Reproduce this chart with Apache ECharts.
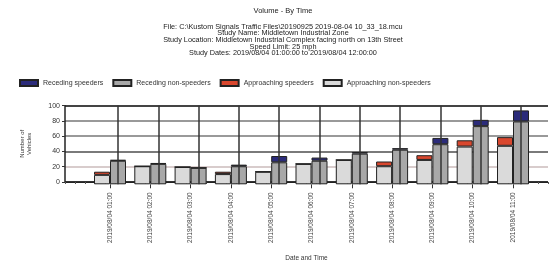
<!DOCTYPE html>
<html>
<head>
<meta charset="utf-8">
<script src="https://cdn.jsdelivr.net/npm/echarts@6/dist/echarts.min.js"></script>
<style>
html,body{margin:0;padding:0;background:#fff;}
#chart{width:556px;height:263px;}
</style>
</head>
<body>
<div id="chart"></div>
<script>
// time slots (x labels)
var timeLabels = ['2019/08/04 01:00', '2019/08/04 02:00', '2019/08/04 03:00', '2019/08/04 04:00',
	'2019/08/04 05:00', '2019/08/04 06:00', '2019/08/04 07:00', '2019/08/04 08:00',
	'2019/08/04 09:00', '2019/08/04 10:00', '2019/08/04 11:00'];
var approachNonSpeeders = [12, 23, 22, 13, 16, 26, 31, 23, 31, 48, 49];
var approachSpeeders = [4, 0, 0, 3, 0, 0, 0, 6, 6, 8, 11];
var recedeNonSpeeders = [30, 26, 21, 23, 28, 30, 39, 44, 51, 74, 80];
var recedeSpeeders = [1, 1, 0, 2, 8, 4, 2, 2, 8, 8, 14];

var subLines = [
	'File: C:\\Kustom Signals Traffic Files\\20190925 2019-08-04 10_33_18.mcu',
	'Study Name: Middletown Industrial Zone',
	'Study Location: Middletown Industrial Complex facing north on 13th Street',
	'Speed Limit: 25 mph',
	'Study Dates: 2019/08/04 01:00:00 to 2019/08/04 12:00:00'
];

// vertical line at each time slot
var centerLines = [];
for (var i = 0; i < timeLabels.length; i++) {
	centerLines.push({xAxis: i});
}

var barStyle = function(color) {
	return {color: color, borderColor: '#222', borderWidth: 1};
};

var myChart = echarts.init(document.getElementById('chart'));
var option = {
	animation: false,
	textStyle: {fontFamily: 'Liberation Sans, Arial, sans-serif'},
	graphic: [
		{type: 'text', x: 283, y: 7, style: {text: 'Volume - By Time', fontSize: 7.5, textAlign: 'center', fill: '#222', fontFamily: 'Liberation Sans'}},
		{type: 'text', x: 283, y: 23.5, style: {text: subLines.join('\n'), fontSize: 7.3, lineHeight: 6.6, textAlign: 'center', fill: '#222', fontFamily: 'Liberation Sans'}}
	],
	legend: {
		left: 19,
		top: 79,
		padding: 0,
		itemWidth: 18,
		itemHeight: 6,
		itemGap: 9,
		icon: 'rect',
		textStyle: {fontSize: 7, color: '#333'},
		data: ['Receding speeders', 'Receding non-speeders', 'Approaching speeders', 'Approaching non-speeders']
	},
	grid: [
		// frame grid: y axis, gridlines, small ticks
		{left: 65, right: 8, top: 105.7, bottom: 78.7, containLabel: false},
		// bars grid
		{left: 89.85, right: 22.85, top: 105.7, bottom: 78.7, containLabel: false}
	],
	xAxis: [
		{
			gridIndex: 0,
			type: 'value',
			min: 0,
			max: 48,
			interval: 1,
			name: 'Date and Time',
			nameLocation: 'middle',
			nameGap: 73,
			nameTextStyle: {fontSize: 6.5, color: '#333'},
			axisLine: {show: true, lineStyle: {color: '#222', width: 1}},
			axisTick: {show: true, length: 2, lineStyle: {color: '#555'}},
			axisLabel: {show: false},
			splitLine: {show: false}
		},
		{
			gridIndex: 1,
			type: 'category',
			data: timeLabels,
			axisLine: {show: false},
			axisTick: {show: true, alignWithLabel: true, length: 4, lineStyle: {color: '#333'}},
			axisLabel: {rotate: 90, fontSize: 6.5, color: '#444', margin: 8, interval: 0},
			splitLine: {show: false}
		}
	],
	yAxis: [
		{
			gridIndex: 0,
			type: 'value',
			min: 0,
			max: 100,
			interval: 20,
			name: 'Number of\nVehicles',
			nameLocation: 'middle',
			nameRotate: 90,
			nameGap: 32,
			nameTextStyle: {fontSize: 6, color: '#333', lineHeight: 7},
			axisLine: {show: true, lineStyle: {color: '#222', width: 1.5}},
			axisTick: {show: true, length: 3, lineStyle: {color: '#333'}},
			axisLabel: {fontSize: 7, color: '#333', margin: 5},
			splitLine: {show: true, lineStyle: {color: ['#333', '#d8cccc', '#7a7a7a', '#999', '#999', '#444'], width: 2}}
		},
		{
			gridIndex: 1,
			type: 'value',
			min: 0,
			max: 100,
			interval: 20,
			show: false
		}
	],
	series: [
		{name: 'Approaching non-speeders', type: 'bar', xAxisIndex: 1, yAxisIndex: 1, stack: 'app', barWidth: 16, barGap: '0%', data: approachNonSpeeders, itemStyle: barStyle('#dadada')},
		{name: 'Approaching speeders', type: 'bar', xAxisIndex: 1, yAxisIndex: 1, stack: 'app', barWidth: 16, barGap: '0%', data: approachSpeeders, itemStyle: barStyle('#d9472e')},
		{name: 'Receding non-speeders', type: 'bar', xAxisIndex: 1, yAxisIndex: 1, stack: 'rec', barWidth: 16, barGap: '0%', data: recedeNonSpeeders, itemStyle: barStyle('#a8a8a8'),
			markLine: {silent: true, symbol: 'none', label: {show: false}, lineStyle: {color: '#333', width: 1.5, type: 'solid'}, data: centerLines}},
		{name: 'Receding speeders', type: 'bar', xAxisIndex: 1, yAxisIndex: 1, stack: 'rec', barWidth: 16, barGap: '0%', data: recedeSpeeders, itemStyle: barStyle('#2b2b7a')}
	]
};
myChart.setOption(option);
</script>
</body>
</html>
